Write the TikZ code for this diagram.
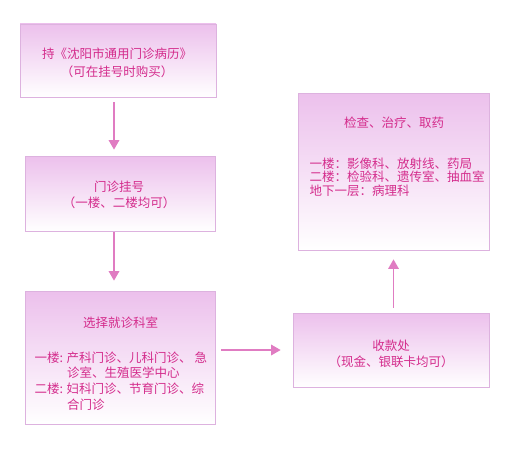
\documentclass[tikz,border=0pt]{standalone}
\usepackage{fontspec}
\newfontfamily\cjk{Noto Sans CJK SC}
\usepackage{tikz}
\usetikzlibrary{arrows, calc, positioning}
\definecolor{txtpink}{HTML}{D42C8C}
\definecolor{arrpink}{HTML}{E07CC2}
\definecolor{boxline}{HTML}{DDB2DF}
\definecolor{boxtop}{HTML}{ECC0EC}

\begin{document}
\begin{tikzpicture}[x=1pt, y=-1pt,
  stepbox/.style={draw=boxline, line width=.8pt, top color=boxtop, bottom color=white, inner sep=0pt},
  txt/.style={text=txtpink, font=\cjk\fontsize{12.5}{16}\selectfont, align=center},
  arr/.style={-triangle 60, draw=arrpink, line width=1.6pt}]
\useasboundingbox (0,0) rectangle (510,452);

\node[stepbox, minimum width=196, minimum height=73] (card) at (118,60.5) {}; \node[txt] (cardtxt) at (117,62.5) {持《沈阳市通用门诊病历》\\[2pt]（可在挂号时购买）};
\node[stepbox, minimum width=190, minimum height=75] (reg) at (120,193.5) {}; \node[txt] (regtxt) at (119,195) {门诊挂号\\（一楼、二楼均可）};
\node[stepbox, minimum width=190, minimum height=133] (dept) at (120,357.5) {};
\node[stepbox, minimum width=191, minimum height=157] (exam) at (393.5,171.5) {};
\node[stepbox, minimum width=196, minimum height=74] (pay) at (391,350) {}; \node[txt] (paytxt) at (391,353.5) {收款处\\（现金、银联卡均可）};

\node[txt] (depthead) at (120.5,323) {选择就诊科室};
\node[txt, align=left, anchor=north west, font=\cjk\fontsize{12.5}{15.7}\selectfont] (deptlist) at (31,348) {一楼: 产科门诊、儿科门诊、 急\\\hspace*{2.6em}诊室、生殖医学中心\\二楼: 妇科门诊、节育门诊、综\\\hspace*{2.6em}合门诊};

\node[txt] (examhead) at (394,123) {检查、治疗、取药};
\node[txt, align=left, anchor=north west, font=\cjk\fontsize{12.5}{13.5}\selectfont] (examlist) at (306,154) {一楼：影像科、放射线、药局\\二楼：检验科、遗传室、抽血室\\地下一层：病理科};

\draw[arr] ([xshift=-4pt,yshift=-5pt]card.south) -- ([xshift=-6pt,yshift=6pt]reg.north);
\draw[arr] ([xshift=-6pt,yshift=-1pt]reg.south) -- ([xshift=-6pt,yshift=10pt]dept.north);
\draw[arr] (dept.east |- pay.west) ++(6,0) -- ([xshift=-12pt]pay.west);
\draw[arr] ([yshift=5pt]pay.north -| exam.south) -- ([yshift=-9pt]exam.south);
\end{tikzpicture}
\end{document}
